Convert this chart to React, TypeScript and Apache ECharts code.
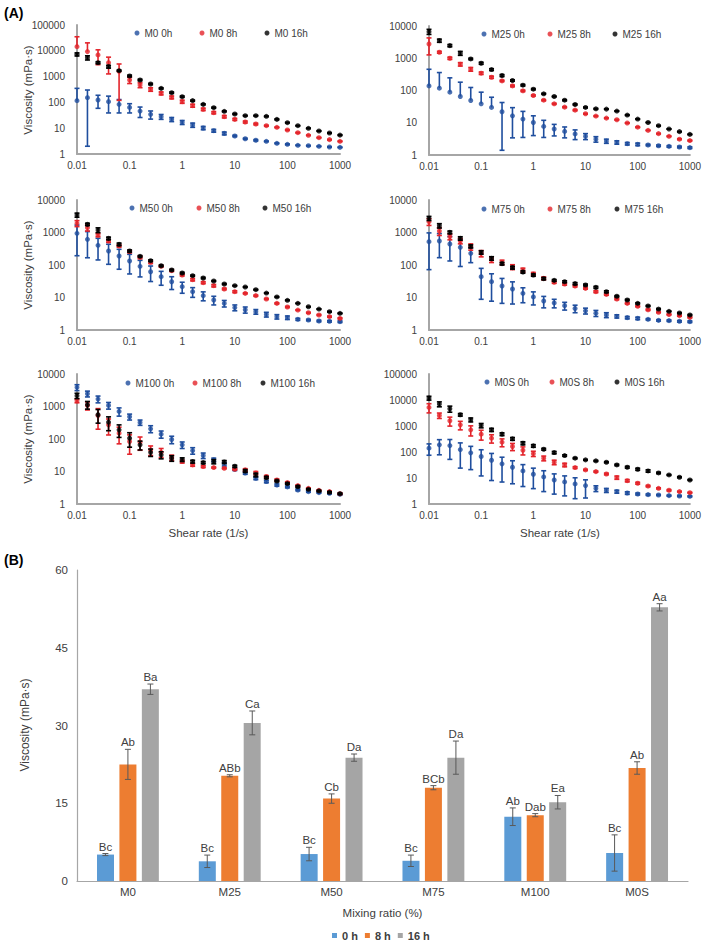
import React, { useEffect, useRef } from "react";
import * as echarts from "echarts";

// ---------- DATA ----------
const shearRate = [0.01, 0.0158, 0.0251, 0.0398, 0.0631, 0.1, 0.158, 0.251, 0.398, 0.631, 1, 1.58, 2.51, 3.98, 6.31, 10, 15.8, 25.1, 39.8, 63.1, 100, 158, 251, 398, 631, 1000];
const xTicks = [0.01, 0.1, 1, 10, 100, 1000];
const timeNames = ["0h", "8h", "16h"];

const m0_0h = [117, 152, 124, 107, 84, 64, 46, 34.5, 28, 22, 16.9, 13.3, 10.2, 8.0, 6.3, 5.0, 3.9, 3.4, 3.1, 2.6, 2.37, 2.17, 2.1, 1.98, 1.87, 1.81];
const m0_0h_sd = [233, 150, 65, 68, 45, 25, 20, 12, 6, 4, 3, 2.5, 1.5, 1, 0.8, 0.3, 0.2, 0.2, 0.1, 0.1, 0.1, 0.05, 0.05, 0.05, 0.05, 0.05];
const m0_8h = [14500, 9300, 6900, 3470, 1600, 738, 472, 320, 225, 157, 107, 75, 54, 40, 28, 22, 17.4, 14.5, 12.5, 10.8, 8.5, 6.7, 5.3, 4.3, 3.6, 3.1];
const m0_8h_sd = [20500, 11000, 4000, 2200, 1480, 200, 100, 50, 30, 20, 15, 10, 6, 4, 3, 2, 1.5, 1, 0.5, 0.4, 0.3, 0.2, 0.1, 0.1, 0.1, 0.1];
const m0_16h = [7300, 5400, 3470, 2430, 1700, 1060, 740, 516, 350, 238, 167, 117, 84, 62.5, 45, 35.5, 30.6, 30.6, 28.8, 22, 16.4, 12.5, 9.9, 7.8, 6.5, 5.4];
const m0_16h_sd = [1000, 1000, 300, 300, 100, 80, 50, 30, 20, 15, 10, 6, 4, 3, 2, 1.5, 1, 1, 1, 1, 0.5, 0.3, 0.3, 0.2, 0.2, 0.2];

const m25_0h = [139, 118, 89, 65, 49, 38.7, 29.8, 21.9, 16.4, 13, 10.2, 7.7, 6.4, 5.4, 4.5, 3.8, 3.1, 2.7, 2.46, 2.24, 2.14, 2.04, 1.94, 1.85, 1.77, 1.69];
const m25_0h_sd = [316, 242, 158, 116, 75, 50, 32, 20.5, 13, 9.5, 6.2, 4.2, 2.5, 2, 1.5, 0.8, 0.6, 0.4, 0.3, 0.2, 0.2, 0.1, 0.1, 0.1, 0.1, 0.1];
const m25_8h = [2770, 1535, 1000, 652, 457, 344, 258, 199, 139, 97.6, 70, 50, 38.7, 30.5, 24.6, 19, 16.1, 13.9, 12.4, 9.8, 7.3, 5.8, 4.6, 3.8, 3.1, 2.8];
const m25_8h_sd = [1500, 100, 80, 80, 60, 30, 20, 10, 8, 5, 3, 2, 1.5, 1, 1, 0.5, 0.5, 0.3, 0.3, 0.2, 0.2, 0.1, 0.1, 0.1, 0.1, 0.1];
const m25_16h = [6680, 3520, 2465, 1430, 953, 700, 445, 291, 204, 146, 110, 79, 65, 50, 36.9, 29.8, 27, 26.5, 23, 17.3, 13, 10.2, 8.1, 6.4, 5.3, 4.36];
const m25_16h_sd = [1200, 400, 200, 200, 50, 50, 30, 20, 10, 8, 5, 3, 2, 2, 1.5, 1, 1, 0.5, 0.5, 0.5, 0.3, 0.2, 0.2, 0.1, 0.1, 0.1];

const m50_0h = [943, 617, 403, 270, 189, 133, 91, 62, 43.8, 30.6, 21.5, 15.1, 11.4, 8.4, 6.6, 4.9, 4.2, 3.66, 3.0, 2.57, 2.4, 2.13, 2.03, 1.89, 1.85, 1.8];
const m50_0h_sd = [750, 450, 260, 165, 115, 80, 48, 31, 20, 13, 8, 5, 3.5, 2.5, 1.5, 1, 0.9, 0.6, 0.5, 0.4, 0.3, 0.15, 0.1, 0.1, 0.1, 0.1];
const m50_8h = [1915, 1410, 838, 548, 384, 257, 172, 121, 91, 67, 49, 35.4, 28.6, 23.1, 18.3, 15.1, 13.4, 11.4, 9.0, 6.6, 5.1, 4.1, 3.4, 2.9, 2.57, 2.28];
const m50_8h_sd = [400, 300, 100, 50, 30, 20, 15, 10, 5, 4, 3, 3, 2, 2, 1, 1, 0.5, 0.5, 0.3, 0.3, 0.2, 0.1, 0.1, 0.1, 0.1, 0.1];
const m50_16h = [3450, 1780, 1190, 660, 433, 270, 185, 136, 95, 70, 56.7, 47, 39.8, 32.2, 26, 23.1, 21, 17.4, 13.7, 10.4, 8.2, 6.6, 5.2, 4.4, 3.66, 3.26];
const m50_16h_sd = [500, 150, 200, 60, 40, 20, 10, 8, 5, 4, 3, 2, 2, 1, 1, 0.5, 0.5, 0.5, 0.3, 0.3, 0.2, 0.1, 0.1, 0.1, 0.1, 0.1];

const m75_0h = [522, 548, 443, 350, 228, 43.8, 30.7, 22.6, 18.3, 13.4, 10.4, 7.8, 6.8, 5.6, 4.6, 3.9, 3.3, 2.9, 2.63, 2.4, 2.28, 2.13, 1.98, 1.94, 1.85, 1.8];
const m75_0h_sd = [450, 380, 310, 260, 110, 35, 23, 16, 12, 6.5, 4.5, 3, 2, 1.5, 1.2, 0.8, 0.7, 0.5, 0.3, 0.2, 0.2, 0.1, 0.1, 0.1, 0.1, 0.1];
const m75_8h = [2150, 1110, 745, 548, 366, 228, 149, 121, 87, 70, 53, 39, 29.3, 26, 22.6, 19.1, 15.1, 12.5, 9.0, 6.6, 5.35, 4.2, 3.5, 3.0, 2.76, 2.45];
const m75_8h_sd = [500, 300, 150, 100, 80, 50, 30, 20, 15, 10, 6, 4, 2, 2, 1.5, 1, 1, 0.8, 0.5, 0.3, 0.2, 0.2, 0.1, 0.1, 0.1, 0.1];
const m75_16h = [2730, 1620, 1010, 660, 375, 245, 160, 110, 83, 61, 49, 38, 33.7, 30.7, 26.7, 24.3, 20.5, 15.1, 10.9, 8.4, 6.6, 5.5, 4.4, 3.75, 3.34, 2.9];
const m75_16h_sd = [400, 250, 100, 80, 40, 30, 20, 10, 8, 5, 4, 3, 2, 2, 2, 1.5, 1.5, 1, 0.5, 0.4, 0.3, 0.2, 0.2, 0.1, 0.1, 0.1];

const m100_0h = [3880, 2470, 1694, 1080, 705, 483, 323, 206, 141, 96.6, 66, 44, 31, 22.8, 16.7, 11.7, 9.0, 6.2, 4.9, 3.85, 3.35, 2.7, 2.4, 2.24, 2.13, 1.99];
const m100_0h_sd = [800, 500, 400, 250, 200, 100, 60, 50, 35, 25, 15, 10, 6, 3, 2, 1, 0.8, 0.6, 0.4, 0.3, 0.2, 0.15, 0.1, 0.1, 0.1, 0.1];
const m100_8h = [1504, 1080, 530, 273, 151, 84, 80, 46, 39, 26.9, 20.2, 16, 14.2, 13.2, 12.6, 11.7, 11.2, 9.0, 7.0, 5.5, 4.55, 3.68, 3.04, 2.64, 2.4, 2.08];
const m100_8h_sd = [200, 300, 330, 140, 80, 50, 35, 15, 12, 5, 2, 1.5, 1, 0.5, 0.5, 0.5, 1, 1, 0.5, 0.4, 0.3, 0.2, 0.1, 0.1, 0.1, 0.1];
const m100_16h = [2150, 1130, 557, 330, 192, 106, 66, 39, 32.5, 25.6, 23.3, 20.2, 18.8, 20.2, 19.7, 14.5, 10.4, 7.85, 6.5, 5.1, 4.24, 3.42, 2.83, 2.52, 2.29, 2.08];
const m100_16h_sd = [400, 300, 250, 150, 80, 50, 20, 10, 8, 5, 3, 2, 1.5, 3, 2, 1, 1, 1, 0.5, 0.3, 0.2, 0.2, 0.1, 0.1, 0.1, 0.1];

const m0s_0h = [140, 188, 177, 124, 93, 67, 48, 35, 26, 18.7, 13.9, 11, 8.4, 7.05, 5.9, 5.1, 4.0, 3.37, 3.0, 2.65, 2.43, 2.29, 2.22, 2.1, 2.03, 1.97];
const m0s_0h_sd = [65, 110, 125, 100, 72, 55, 40, 28, 20, 14, 10, 8, 6, 5, 4.3, 3.4, 1.0, 0.6, 0.4, 0.3, 0.2, 0.15, 0.1, 0.1, 0.1, 0.1];
const m0s_8h = [5190, 2550, 1590, 1110, 713, 486, 340, 239, 163, 117, 87, 57.7, 40.4, 31.9, 25.2, 20.5, 17.6, 14.3, 10.4, 7.9, 6.3, 4.9, 4.0, 3.37, 3.0, 2.73];
const m0s_8h_sd = [2000, 600, 600, 400, 300, 200, 120, 80, 50, 40, 20, 12, 8, 5, 2, 1, 1, 1, 1.5, 0.8, 0.5, 0.3, 0.2, 0.2, 0.1, 0.1];
const m0s_16h = [11880, 6970, 4600, 2700, 1735, 1050, 713, 486, 321, 218, 172, 128, 95, 73, 57.7, 49.8, 45.5, 40.4, 31.9, 26, 21.7, 18.7, 15.7, 13.1, 10.7, 8.4];
const m0s_16h_sd = [2000, 1500, 1200, 300, 300, 200, 100, 60, 40, 30, 20, 10, 10, 5, 3, 2, 2, 2, 2, 2, 2, 2, 1, 0.5, 0.5, 0.3];

const panelNames = ["M0", "M25", "M50", "M75", "M100", "M0S"];
const panelYMax = [100000, 10000, 10000, 10000, 10000, 100000];
const panelValues = [
  [m0_0h, m0_8h, m0_16h],
  [m25_0h, m25_8h, m25_16h],
  [m50_0h, m50_8h, m50_16h],
  [m75_0h, m75_8h, m75_16h],
  [m100_0h, m100_8h, m100_16h],
  [m0s_0h, m0s_8h, m0s_16h],
];
const panelSd = [
  [m0_0h_sd, m0_8h_sd, m0_16h_sd],
  [m25_0h_sd, m25_8h_sd, m25_16h_sd],
  [m50_0h_sd, m50_8h_sd, m50_16h_sd],
  [m75_0h_sd, m75_8h_sd, m75_16h_sd],
  [m100_0h_sd, m100_8h_sd, m100_16h_sd],
  [m0s_0h_sd, m0s_8h_sd, m0s_16h_sd],
];

// Bar chart (B)
const mixCategories = ["M0", "M25", "M50", "M75", "M100", "M0S"];
const barTimeNames = ["0 h", "8 h", "16 h"];
const bar0h = [5.1, 3.8, 5.2, 3.9, 12.4, 5.4];
const bar0hSd = [0.2, 1.2, 1.3, 1.1, 1.7, 3.5];
const bar8h = [22.5, 20.3, 15.9, 18.0, 12.7, 21.8];
const bar8hSd = [2.9, 0.2, 0.9, 0.4, 0.3, 1.2];
const bar16h = [37.0, 30.5, 23.8, 23.8, 15.2, 52.8];
const bar16hSd = [1.0, 2.3, 0.7, 3.2, 1.3, 0.7];
const bar0hLetters = ["Bc", "Bc", "Bc", "Bc", "Ab", "Bc"];
const bar8hLetters = ["Ab", "ABb", "Cb", "BCb", "Dab", "Ab"];
const bar16hLetters = ["Ba", "Ca", "Da", "Da", "Ea", "Aa"];
const barYTicks = [0, 15, 30, 45, 60];

// ---------- STYLE / LAYOUT ----------
const FONT = "'Liberation Sans', Arial, sans-serif";
const TEXT = "#404040";
const AXIS = "#A6A6A6";
const scatterColors = ["#1F4E9E", "#E3242B", "#000000"];
const barColors = ["#5B9BD5", "#ED7D31", "#A5A5A5"];

const panelGrids = [
  { left: 77, top: 25, width: 263, height: 129 },
  { left: 429, top: 26, width: 262, height: 129 },
  { left: 77, top: 200, width: 263, height: 130 },
  { left: 429, top: 200, width: 262, height: 130 },
  { left: 77, top: 374, width: 263, height: 130 },
  { left: 429, top: 374, width: 262, height: 130 },
];
// legend marker centres (x for each of the 3 items, shared y)
const legendMarkerX = [
  [137, 202, 267],
  [484, 550, 615],
  [132, 199, 265],
  [484, 550, 617],
  [128, 195, 263],
  [487, 552, 617],
];
const legendMarkerY = [34, 35, 209, 210, 384, 383];
const barGrid = { left: 77, top: 570, width: 611, height: 311 };
const BAR_W = 17;
const BAR_PITCH = 22.5;

const fmt = (v: number) => String(+Number(v).toPrecision(3));

function buildOption() {
  const grid: any[] = [];
  const xAxis: any[] = [];
  const yAxis: any[] = [];
  const series: any[] = [];
  const legend: any[] = [];

  panelNames.forEach((pn, i) => {
    grid.push({ ...panelGrids[i], containLabel: false });
    xAxis.push({
      type: "log",
      logBase: 10,
      gridIndex: i,
      min: xTicks[0],
      max: xTicks[xTicks.length - 1],
      axisLine: { show: true, onZero: false, lineStyle: { color: AXIS, width: 2 } },
      axisTick: { show: false },
      minorTick: { show: false },
      splitLine: { show: false },
      axisLabel: { fontSize: 10, color: TEXT, margin: 6, fontFamily: FONT, formatter: fmt },
    });
    yAxis.push({
      type: "log",
      logBase: 10,
      gridIndex: i,
      min: 1,
      max: panelYMax[i],
      axisLine: { show: true, onZero: false, lineStyle: { color: AXIS, width: 2 } },
      axisTick: { show: false },
      splitLine: { show: false },
      axisLabel: { fontSize: 10, color: TEXT, margin: 12, fontFamily: FONT, formatter: fmt },
    });
    timeNames.forEach((tn, j) => {
      const name = `${pn} ${tn}`;
      const vals = panelValues[i][j];
      const sds = panelSd[i][j];
      const color = scatterColors[j];
      series.push({
        type: "custom",
        name: name + " sd",
        xAxisIndex: i,
        yAxisIndex: i,
        silent: true,
        z: 2 + j * 2,
        data: shearRate.map((x, k) => {
          const v = vals[k];
          const e = sds[k];
          const lo = v - e > 0 ? v - e : v;
          return [x, v, lo, v + e];
        }),
        renderItem: (params: any, api: any) => {
          const x = api.value(0);
          const v = api.value(1);
          const lo = api.value(2);
          const hi = api.value(3);
          const pt = api.coord([x, hi]);
          const pb = api.coord([x, lo]);
          const st = { stroke: color, lineWidth: 1.6 };
          const children: any[] = [
            { type: "line", shape: { x1: pt[0], y1: pt[1], x2: pb[0], y2: pb[1] }, style: st },
            { type: "line", shape: { x1: pt[0] - 2.5, y1: pt[1], x2: pt[0] + 2.5, y2: pt[1] }, style: st },
          ];
          if (lo < v) {
            children.push({ type: "line", shape: { x1: pb[0] - 2.5, y1: pb[1], x2: pb[0] + 2.5, y2: pb[1] }, style: st });
          }
          return { type: "group", children };
        },
      });
      series.push({
        type: "scatter",
        name,
        xAxisIndex: i,
        yAxisIndex: i,
        symbol: "circle",
        symbolSize: 5,
        z: 3 + j * 2,
        itemStyle: { color },
        data: shearRate.map((x, k) => [x, vals[k]]),
      });
      legend.push({
        data: [name],
        left: legendMarkerX[i][j] - 2.5,
        top: legendMarkerY[i] - 6,
        orient: "horizontal",
        icon: "circle",
        itemWidth: 5,
        itemHeight: 5,
        selectedMode: false,
        padding: 0,
        textStyle: { fontSize: 10, color: TEXT, fontFamily: FONT },
      });
    });
  });

  // Bar chart
  const bi = panelNames.length;
  grid.push({ ...barGrid, containLabel: false });
  xAxis.push({
    type: "category",
    gridIndex: bi,
    data: mixCategories,
    axisLine: { show: true, lineStyle: { color: AXIS, width: 1.2 } },
    axisTick: { show: false },
    axisLabel: { fontSize: 11.5, color: TEXT, margin: 5, fontFamily: FONT },
  });
  yAxis.push({
    type: "value",
    gridIndex: bi,
    min: barYTicks[0],
    max: barYTicks[barYTicks.length - 1],
    interval: barYTicks[1] - barYTicks[0],
    axisLine: { show: true, lineStyle: { color: AXIS, width: 1.2 } },
    axisTick: { show: false },
    splitLine: { show: false },
    axisLabel: { fontSize: 11.5, color: TEXT, margin: 9, fontFamily: FONT },
  });
  const barVals = [bar0h, bar8h, bar16h];
  const barSds = [bar0hSd, bar8hSd, bar16hSd];
  const barLetters = [bar0hLetters, bar8hLetters, bar16hLetters];
  barTimeNames.forEach((tn, j) => {
    series.push({
      type: "bar",
      name: tn,
      xAxisIndex: bi,
      yAxisIndex: bi,
      barWidth: BAR_W,
      barGap: "32%",
      itemStyle: { color: barColors[j] },
      data: barVals[j],
    });
  });
  barTimeNames.forEach((tn, j) => {
    const letters = barLetters[j];
    series.push({
      type: "custom",
      name: tn + " sd",
      xAxisIndex: bi,
      yAxisIndex: bi,
      silent: true,
      z: 5,
      data: barVals[j].map((v, k) => [k, v, barSds[j][k]]),
      renderItem: (params: any, api: any) => {
        const c = api.value(0);
        const v = api.value(1);
        const e = api.value(2);
        const pt = api.coord([c, v + e]);
        const pb = api.coord([c, v - e]);
        const x = pt[0] + (j - 1) * BAR_PITCH;
        const st = { stroke: "#595959", lineWidth: 1 };
        return {
          type: "group",
          children: [
            { type: "line", shape: { x1: x, y1: pt[1], x2: x, y2: pb[1] }, style: st },
            { type: "line", shape: { x1: x - 3, y1: pt[1], x2: x + 3, y2: pt[1] }, style: st },
            { type: "line", shape: { x1: x - 3, y1: pb[1], x2: x + 3, y2: pb[1] }, style: st },
            {
              type: "text",
              x,
              y: pt[1] - 1,
              style: {
                text: letters[params.dataIndex],
                align: "center",
                verticalAlign: "bottom",
                fontSize: 11.5,
                fontFamily: FONT,
                fill: TEXT,
              },
            },
          ],
        };
      },
    });
  });
  legend.push({
    data: barTimeNames,
    left: 332,
    top: 930,
    icon: "rect",
    itemWidth: 5,
    itemHeight: 5,
    itemGap: 7,
    padding: 0,
    selectedMode: false,
    textStyle: { fontSize: 11, fontWeight: "bold", color: TEXT, fontFamily: FONT },
  });

  const t = (text: string, x: number, y: number, opts: any = {}) => ({
    type: "text",
    x,
    y,
    rotation: opts.rotation || 0,
    style: {
      text,
      align: opts.align || "center",
      verticalAlign: "middle",
      fontSize: opts.fontSize || 11.5,
      fontWeight: opts.fontWeight || "normal",
      fontFamily: FONT,
      fill: opts.fill || TEXT,
    },
  });

  const graphic = [
    t("(A)", 4, 13, { align: "left", fontSize: 14, fontWeight: "bold", fill: "#000" }),
    t("(B)", 4, 560, { align: "left", fontSize: 14, fontWeight: "bold", fill: "#000" }),
    t("Viscosity (mPa·s)", 28, 90, { rotation: Math.PI / 2 }),
    t("Viscosity (mPa·s)", 28, 265, { rotation: Math.PI / 2 }),
    t("Viscosity (mPa·s)", 28, 439, { rotation: Math.PI / 2 }),
    t("Shear rate (1/s)", 208.5, 533),
    t("Shear rate (1/s)", 560, 533),
    t("Viscosity (mPa·s)", 25, 725, { rotation: Math.PI / 2, fontSize: 12 }),
    t("Mixing ratio (%)", 382.5, 913),
  ];

  return {
    animation: false,
    backgroundColor: "#ffffff",
    textStyle: { fontFamily: FONT },
    grid,
    xAxis,
    yAxis,
    legend,
    series,
    graphic,
  };
}

export default function App() {
  const ref = useRef<HTMLDivElement>(null);
  useEffect(() => {
    if (!ref.current) return;
    const chart = echarts.init(ref.current, undefined, { renderer: "svg" });
    chart.setOption(buildOption() as any);
    return () => chart.dispose();
  }, []);
  return (
    <div
      ref={ref}
      style={{ position: "absolute", left: 0, top: 0, width: 704, height: 945, background: "#fff" }}
    />
  );
}
